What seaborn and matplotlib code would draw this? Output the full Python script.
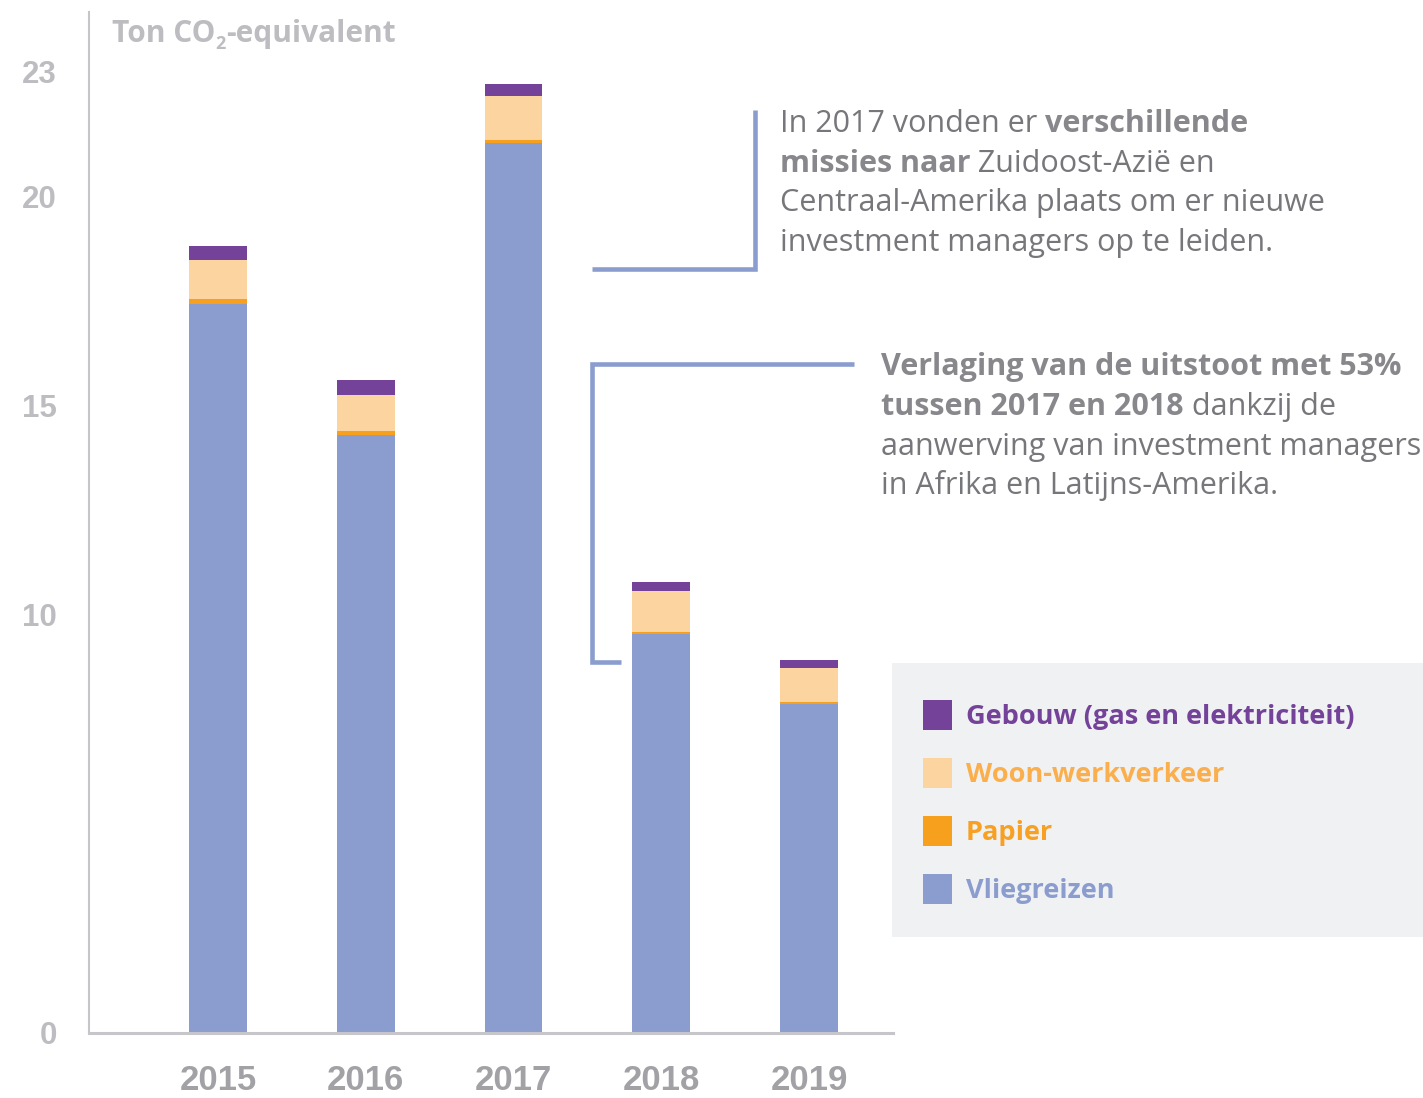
import numpy as np
import pandas as pd
import matplotlib
matplotlib.use("Agg")
import matplotlib.pyplot as plt
from matplotlib.patches import Rectangle
import seaborn as sns

# ------------------------------------------------------------------
# Data (ton CO2-equivalent per year)
# ------------------------------------------------------------------
years = ["2015", "2016", "2017", "2018", "2019"]
vliegreizen = [17.44, 14.29, 21.27, 9.53, 7.87]
papier = [0.11, 0.10, 0.07, 0.04, 0.04]
woon_werkverkeer = [0.93, 0.86, 1.06, 0.99, 0.81]
gebouw = [0.34, 0.36, 0.29, 0.22, 0.19]

y_ticks = [0, 10, 15, 20, 23]

# stacking order from bottom to top
layer_names = ["Vliegreizen", "Papier", "Woon-werkverkeer", "Gebouw (gas en elektriciteit)"]
layer_colors = ["#8b9dce", "#f6a01e", "#fcd49f", "#744399"]
legend_text_colors = ["#8b9dce", "#f7a021", "#fbae4c", "#744399"]

# colours for the rest
SPINE = "#c6c6ca"
TICK_TXT = "#bdbdc1"
YEAR_TXT = "#a2a2a6"
NOTE_REG = "#77777b"
NOTE_BOLD = "#88888c"
LEGEND_BG = "#f0f1f3"

sns.set_style("white")
plt.rcParams["font.family"] = ["Open Sans", "DejaVu Sans"]

W, H = 1423, 1098
fig = plt.figure(figsize=(W / 100, H / 100), dpi=100)

# main axes placed in pixel terms
x0, x1 = 89, 893
y_zero, y_top = 1032.5, 12
px_per_unit = 41.8
ax = fig.add_axes([x0 / W, (H - y_zero) / H, (x1 - x0) / W, (y_zero - y_top) / H])

df = pd.DataFrame({
    "jaar": years,
    "Vliegreizen": vliegreizen,
    "Papier": papier,
    "Woon-werkverkeer": woon_werkverkeer,
    "Gebouw (gas en elektriciteit)": gebouw,
})
cum = df[layer_names].cumsum(axis=1)
cum["jaar"] = df["jaar"]

# stacked bars: tallest cumulative layer first, smaller ones on top
for name, color in reversed(list(zip(layer_names, layer_colors))):
    sns.barplot(data=cum, x="jaar", y=name, color=color, saturation=1,
                width=0.39, errorbar=None, linewidth=0, ax=ax)

ax.set_xlim(-0.873, 4.568)
ax.set_ylim(0, (y_zero - y_top) / px_per_unit)
ax.set_xlabel("")
ax.set_ylabel("")

ax.set_yticks(y_ticks)
ax.set_yticklabels([str(v) for v in y_ticks], fontsize=22.5, fontweight="bold",
                   color=TICK_TXT, family=["Liberation Sans", "DejaVu Sans"])
ax.tick_params(axis="y", length=12.2, width=1.5, color=SPINE, pad=11)
ax.tick_params(axis="x", length=0, pad=23)
for lab in ax.get_xticklabels():
    lab.set_fontsize(25)
    lab.set_fontweight("bold")
    lab.set_color(YEAR_TXT)
    lab.set_family(["Liberation Sans", "DejaVu Sans"])

for side in ["top", "right"]:
    ax.spines[side].set_visible(False)
ax.spines["left"].set_color(SPINE)
ax.spines["left"].set_linewidth(1.5)
ax.spines["bottom"].set_color(SPINE)
ax.spines["bottom"].set_linewidth(2.2)

# ------------------------------------------------------------------
# Overlay in pixel coordinates for notes and legend
# ------------------------------------------------------------------
ov = fig.add_axes([0, 0, 1, 1], zorder=5)
ov.set_xlim(0, W)
ov.set_ylim(H, 0)
ov.axis("off")
ov.patch.set_alpha(0)

renderer = fig.canvas.get_renderer()


def draw_runs(x, y, runs, size=22):
    """Draw pieces of text one after the other on a shared baseline."""
    for txt, weight, color, *extra in runs:
        fs = extra[0] if extra else size
        dy = extra[1] if len(extra) > 1 else 0
        t = ov.text(x, y + dy, txt, fontsize=fs, fontweight=weight, color=color,
                    ha="left", va="baseline")
        x += t.get_window_extent(renderer=renderer).width


# axis title with subscript
draw_runs(112, 42, [("Ton CO", "bold", TICK_TXT),
                    ("2", "bold", TICK_TXT, 13, 7),
                    ("-equivalent", "bold", TICK_TXT)], size=21.5)

# note lines
line_kw = dict(color="#8b9dce", lw=3.3, solid_joinstyle="miter", solid_capstyle="butt")
ov.plot([592, 754.5, 754.5], [269, 269, 110], **line_kw)
ov.plot([854, 592, 592, 621], [363.5, 363.5, 662, 662], **line_kw)

note_a = [
    [("In 2017 vonden er ", "normal", NOTE_REG), ("verschillende", "bold", NOTE_BOLD)],
    [("missies naar", "bold", NOTE_BOLD), (" Zuidoost-Azië en", "normal", NOTE_REG)],
    [("Centraal-Amerika plaats om er nieuwe", "normal", NOTE_REG)],
    [("investment managers op te leiden.", "normal", NOTE_REG)],
]
note_b = [
    [("Verlaging van de uitstoot met 53%", "bold", NOTE_BOLD)],
    [("tussen 2017 en 2018", "bold", NOTE_BOLD), (" dankzij de", "normal", NOTE_REG)],
    [("aanwerving van investment managers", "normal", NOTE_REG)],
    [("in Afrika en Latijns-Amerika.", "normal", NOTE_REG)],
]
for i, runs in enumerate(note_a):
    draw_runs(780, 132 + i * 39.5, runs)
for i, runs in enumerate(note_b):
    draw_runs(881, 375.5 + i * 39.5, runs)

# legend box
ov.add_patch(Rectangle((892, 663), W - 892, 274, facecolor=LEGEND_BG, edgecolor="none"))
row_y = [715, 773, 831, 889]
for cy, name, color, tcolor in zip(row_y, reversed(layer_names), reversed(layer_colors),
                                   reversed(legend_text_colors)):
    ov.add_patch(Rectangle((923, cy - 15), 29, 30, facecolor=color, edgecolor="none"))
    ov.text(966, cy + 9, name, fontsize=19.5, fontweight="bold", color=tcolor,
            ha="left", va="baseline")

fig.savefig("out.png", dpi=100)
